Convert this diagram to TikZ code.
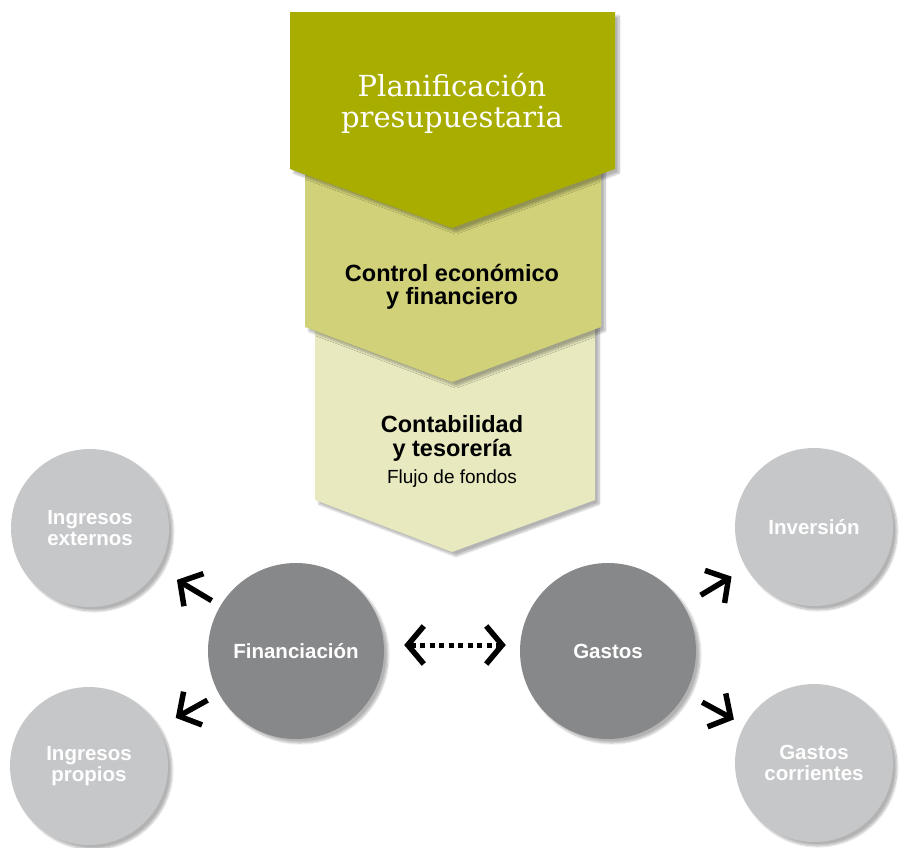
\documentclass[tikz,border=0pt]{standalone}
\usepackage{fontspec}
\setmainfont{Liberation Sans}
\newfontfamily\slabfont{DejaVu Serif}
\usetikzlibrary{arrows.meta,shadows.blur}
\definecolor{olivaA}{RGB}{169,173,0}
\definecolor{olivaB}{RGB}{208,209,120}
\definecolor{olivaC}{RGB}{232,233,191}
\definecolor{grisL}{RGB}{198,199,201}
\definecolor{grisD}{RGB}{135,136,138}
\tikzset{
	sombra/.style={blur shadow={shadow xshift=4pt, shadow yshift=-4pt, shadow blur steps=8, shadow opacity=30}},
	bola/.style={circle, fill=grisL, text=white, font=\bfseries\fontsize{20.5}{21.5}\selectfont, align=center, inner sep=0pt, minimum size=158pt, sombra},
	bolaD/.style={bola, fill=grisD, minimum size=176pt},
	punta/.tip={Straight Barb[length=16pt,width=38pt,line width=5.5pt]},
	flecha/.style={line width=5.5pt, -punta},
}
\begin{document}
\begin{tikzpicture}[x=1pt, y=-1pt, line join=miter]
	\useasboundingbox (0,0) rectangle (903,847);
	\fill[olivaC, sombra] (315,320) -- (595,320) -- (595,500) -- (452,552) -- (315,500) -- cycle;
	\fill[olivaB, sombra] (305,160) -- (601,160) -- (601,327) -- (452,382) -- (305,327) -- cycle;
	\fill[olivaA, sombra] (290,12) -- (615,12) -- (615,169) -- (452,228) -- (290,169) -- cycle;
	\node[text=white, font=\slabfont\fontsize{29}{31}\selectfont, align=center] (plan) at (452,103.5) {Planificación\\presupuestaria};
	\node[font=\bfseries\fontsize{23.5}{23.5}\selectfont, align=center] (control) at (452,287) {Control económico\\y financiero};
	\node[font=\bfseries\fontsize{23.5}{23.5}\selectfont, align=center] (conta) at (452,451.5) {Contabilidad\\y tesorería\\[3.5pt]{\mdseries\fontsize{19}{19}\selectfont Flujo de fondos}};
	
	\node[bola] (ext) at (90,528) {Ingresos\\externos};
	\node[bola] (ipr) at (89,766) {Ingresos\\propios};
	\node[bolaD] (fin) at (296,651) {Financiación};
	\node[bolaD] (gas) at (608,651) {Gastos};
	\node[bola] (inv) at (814,527) {Inversión};
	\node[bola] (gco) at (814,763) {Gastos\\corrientes};
	
	\draw[flecha, shorten <=10pt, shorten >=22pt] (fin) -- (ext);
	\draw[flecha, shorten <=13pt, shorten >=20pt] (fin) -- (ipr);
	\draw[flecha, shorten <=20pt, shorten >=17pt] (gas) -- (inv);
	\draw[flecha, shorten <=19pt, shorten >=12pt] (gas) -- (gco);
	\draw[flecha, line width=5pt, punta-punta, dash pattern=on 5pt off 4.5pt, shorten <=20pt, shorten >=14pt] ([yshift=6pt]fin.east) -- ([yshift=6pt]gas.west);
\end{tikzpicture}
\end{document}
